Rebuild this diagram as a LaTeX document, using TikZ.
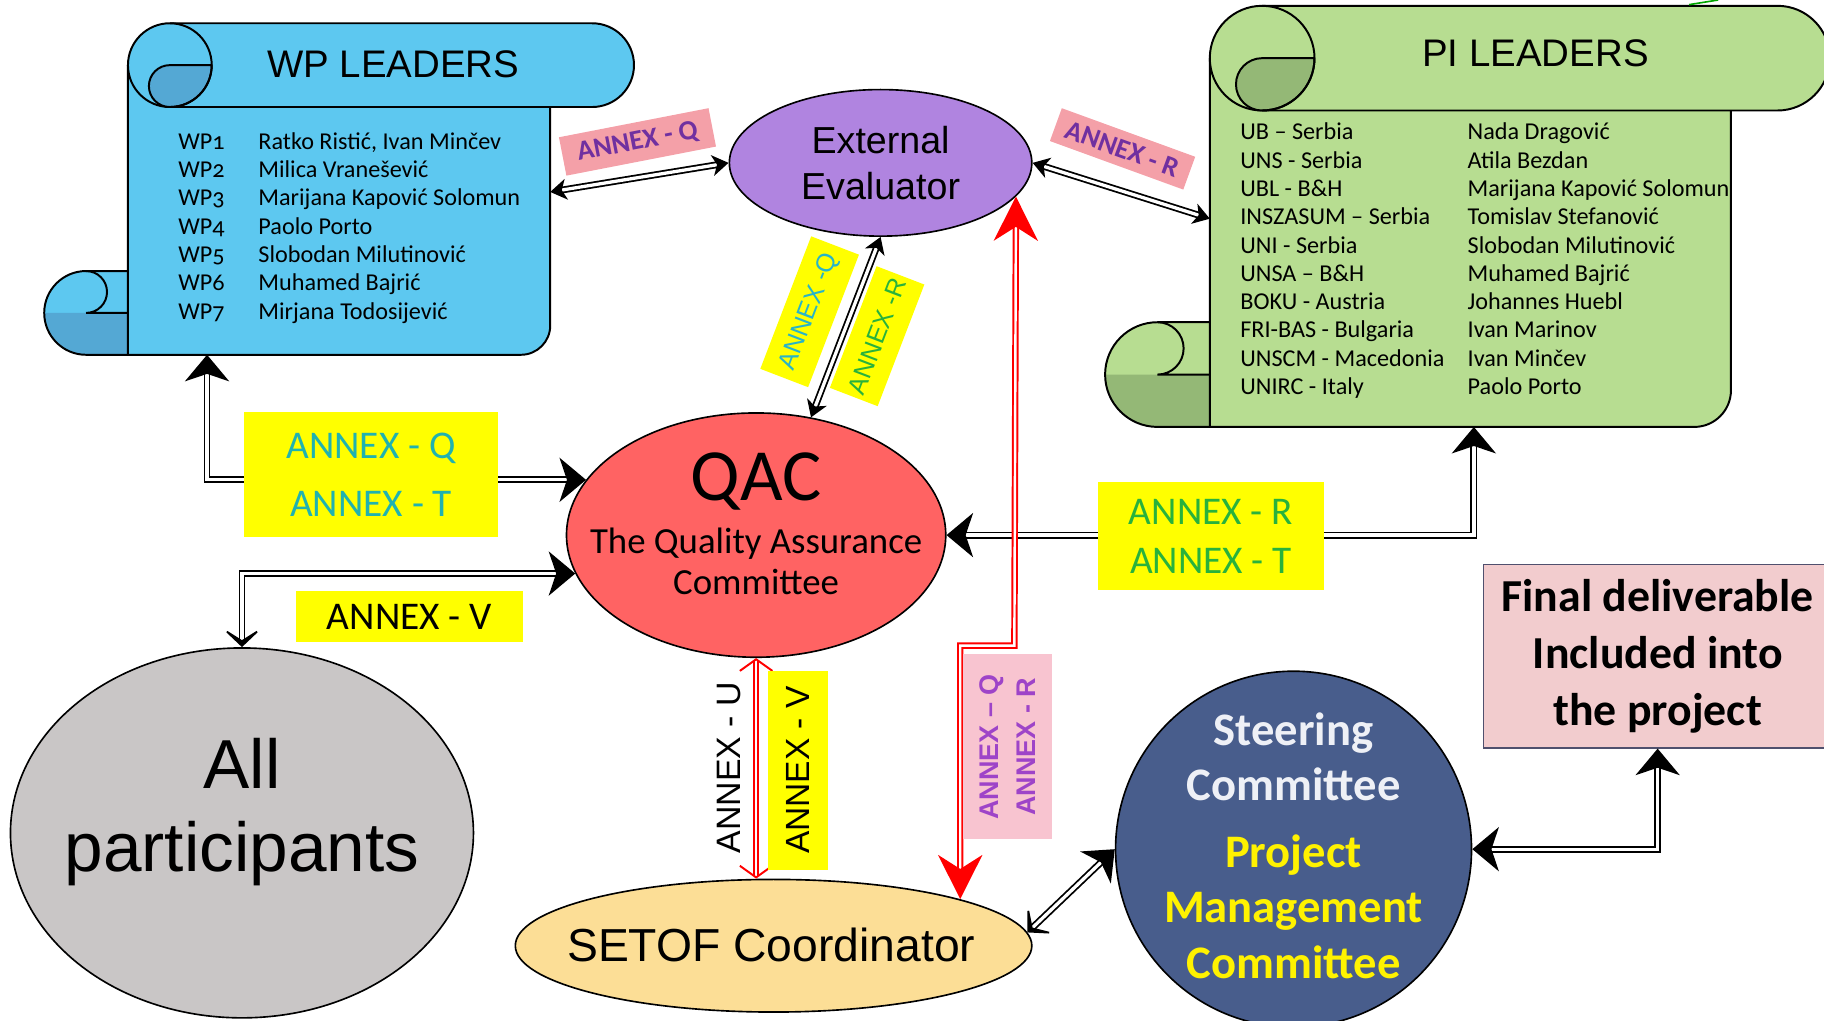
\documentclass[tikz,border=0pt]{standalone}
\usepackage{fontspec}
\setmainfont{Liberation Sans}
\newfontfamily\carlito{Carlito}
\newfontfamily\carlitoos{Carlito}[Numbers=OldStyle]
\usetikzlibrary{shapes.geometric,arrows.meta}

\definecolor{wpblue}{RGB}{93,200,240}
\definecolor{wpdark}{RGB}{84,168,212}
\definecolor{pigreen}{RGB}{183,221,145}
\definecolor{pidark}{RGB}{148,184,118}
\definecolor{eeviolet}{RGB}{176,132,224}
\definecolor{qacred}{RGB}{255,99,99}
\definecolor{allgray}{RGB}{201,198,198}
\definecolor{setofsand}{RGB}{252,222,150}
\definecolor{steerblue}{RGB}{72,93,140}
\definecolor{steerwhite}{RGB}{238,240,246}
\definecolor{finalpink}{RGB}{242,204,206}
\definecolor{finalline}{RGB}{80,80,110}
\definecolor{annexyellow}{RGB}{255,255,0}
\definecolor{annexpink}{RGB}{244,160,168}
\definecolor{annexrose}{RGB}{248,196,208}
\definecolor{annexpurple}{RGB}{112,48,160}
\definecolor{annexviolet}{RGB}{158,68,200}
\definecolor{annexteal}{RGB}{32,178,176}
\definecolor{annexcyan}{RGB}{40,180,200}
\definecolor{annexgreen}{RGB}{40,178,60}

% scroll: left, top, band right, body right, bottom, roll radius, light, dark
\newcommand{\scrollshape}[8]{%
  \fill[#7] ({#1-#6},{#5-2*#6}) -- (#1,{#5-2*#6}) -- (#1,#5) -- ({#1-#6},#5) arc(90:270:#6);
  \fill[#8] (#1,{#5-#6}) -- ({#1-2*#6},{#5-#6}) arc(180:90:#6) -- (#1,#5) -- cycle;
  \draw[line width=1.2pt, line join=round] (#1,{#5-2*#6}) -- ({#1-#6},{#5-2*#6}) arc(270:90:#6) -- (#1,#5);
  \draw[line width=1.2pt] ({#1-#6},{#5-2*#6}) arc(-90:90:{#6/2}) -- (#1,{#5-#6});
  \filldraw[fill=#7, line width=1.2pt, line join=round] (#1,{#2+#6}) -- (#1,#5) -- ({#4-0.7*#6},#5)
    arc(90:0:{0.7*#6}) -- (#4,{#2+#6});
  \filldraw[fill=#7, line width=1.2pt, line join=round] ({#1+#6},#2) -- ({#3-#6},#2) arc(-90:90:#6)
    -- ({#1+#6},{#2+2*#6}) arc(90:270:#6) -- cycle;
  \filldraw[fill=#8, line width=1.2pt, line join=round] ({#1+#6},{#2+#6}) -- ({#1+2*#6},{#2+#6})
    arc(0:90:#6) arc(90:270:{#6/2}) -- cycle;
  \draw[line width=1.2pt] ({#1+#6},#2) arc(-90:90:#6);
}

\begin{document}
\begin{tikzpicture}
  [x=0.25mm, y=-0.25mm,
   bighead/.tip={Stealth[length=5.7mm, width=9.5mm, inset=1.6mm]},
   widehead/.tip={Stealth[length=4.5mm, width=9.5mm, inset=3mm]},
   smallhead/.tip={Stealth[length=3.5mm, width=4.5mm, inset=1mm]},
   redhead/.tip={Stealth[length=9.5mm, width=9.5mm, inset=3mm]},
   barbhead/.tip={Straight Barb[length=2.5mm, width=7mm]},
   link/.style={draw=black, line width=1.1pt, double=white, double distance=2pt},
   redlink/.style={draw=red, line width=1.2pt, double=white, double distance=1.5pt},
   bubble/.style={ellipse, draw, line width=1pt, inner sep=0, align=center},
   yellowbox/.style={fill=annexyellow, inner sep=0, align=center},
   pinkbox/.style={fill=annexpink, inner sep=0, text=annexpurple,
                   font=\carlito\bfseries\fontsize{17}{20}\selectfont},
   listtext/.style={anchor=north west, inner sep=0, font=\carlito\fontsize{14.8}{17.3}\selectfont},
   titletext/.style={font=\fontsize{23.5}{28}\selectfont}]
  \useasboundingbox (0,0) rectangle (1568,877);

  \scrollshape{110}{20}{545}{473}{305}{36}{wpblue}{wpdark}
  \scrollshape{1040}{5}{1573}{1488}{367}{45}{pigreen}{pidark}
  \draw[green!65!black, line width=1pt] (1452,4) -- (1477,0);

  \node[titletext] (wptitle) at (338,55) {WP LEADERS};
  \node[listtext] (wplist) at (153,111) {\begin{tabular}{@{}p{49pt}@{}l@{}}
    {\carlitoos WP1} & Ratko Ristić, Ivan Minčev\\
    {\carlitoos WP2} & Milica Vranešević\\
    {\carlitoos WP3} & Marijana Kapović Solomun\\
    {\carlitoos WP4} & Paolo Porto\\
    {\carlitoos WP5} & Slobodan Milutinović\\
    {\carlitoos WP6} & Muhamed Bajrić\\
    {\carlitoos WP7} & Mirjana Todosijević
  \end{tabular}};
  \node[titletext] (pititle) at (1320,46) {PI LEADERS};
  \node[listtext] (pilist) at (1066,103) {\begin{tabular}{@{}p{139pt}@{}l@{}}
    UB – Serbia & Nada Dragović\\
    UNS - Serbia & Atila Bezdan\\
    UBL - B\&H & Marijana Kapović Solomun\\
    INSZASUM – Serbia & Tomislav Stefanović\\
    UNI - Serbia & Slobodan Milutinović\\
    UNSA – B\&H & Muhamed Bajrić\\
    BOKU - Austria & Johannes Huebl\\
    FRI-BAS - Bulgaria & Ivan Marinov\\
    UNSCM - Macedonia & Ivan Minčev\\
    UNIRC - Italy & Paolo Porto
  \end{tabular}};
  \coordinate (wpR) at (473,165);
  \coordinate (wpB) at (178,305);
  \coordinate (piL) at (1040,188);
  \coordinate (piB) at (1267,367);

  \node[bubble, fill=eeviolet, minimum width=65mm, minimum height=31.5mm,
        font=\fontsize{23}{28.4}\selectfont] (ee) at (757,140) {External\\Evaluator};
  \node[bubble, fill=qacred, minimum width=81.5mm, minimum height=52.5mm] (qac) at (650,460) {};
  \node[align=center, font=\carlito\fontsize{22.5}{25}\selectfont] (qactext) at (650,450)
        {{\fontsize{45}{45}\selectfont QAC}\\[7.7pt]The Quality Assurance\\Committee};
  \node[bubble, fill=allgray, minimum width=99.5mm, minimum height=79.5mm] (allp) at (208,716) {};
  \node[align=center, font=\fontsize{42.4}{51}\selectfont] (allptext) at (208,698) {All\\participants};
  \node[bubble, fill=setofsand, minimum width=111mm, minimum height=28.5mm] (setof) at (665,813) {};
  \node[font=\fontsize{28.3}{32}\selectfont] (setoftext) at (663,812) {SETOF Coordinator};
  \node[circle, draw, line width=1pt, fill=steerblue, minimum size=76.5mm, inner sep=0] (steer)
        at (1112,730) {};
  \node[align=center, font=\carlito\bfseries\fontsize{28.5}{34}\selectfont] (steertext) at (1112,727)
        {\textcolor{steerwhite}{Steering}\\\textcolor{steerwhite}{Committee}\\[6.5pt]
         \textcolor{yellow}{Project}\\\textcolor{yellow}{Management}\\\textcolor{yellow}{Committee}};
  \node[draw=finalline, line width=0.8pt, fill=finalpink, minimum width=75mm, minimum height=39.5mm,
        inner sep=0, align=center, font=\carlito\bfseries\fontsize{28}{35}\selectfont] (final)
        at (1425,564) {Final deliverable\\Included into\\the project};

  \draw[link, smallhead-smallhead] (wpR) -- (ee.west);
  \draw[link, smallhead-smallhead] (ee.east) -- (piL);
  \draw[link, smallhead-smallhead] (ee.south) -- (qac.65);
  \draw[link, bighead-bighead] (wpB) |- (qac.162);
  \draw[link, bighead-bighead] (piB) |- (qac.east);
  \draw[link, bighead-widehead] (qac.192) -| (allp.north);
  \draw[link, widehead-bighead] (setof.3) -- (steer.west);
  \draw[link, bighead-bighead] (steer.east) -| (final.south);
  \draw[redlink, barbhead-barbhead] (qac.south) -- (qac.south |- setof.north);
  \coordinate (redknee) at (872,555);
  \draw[redlink, redhead-redhead] (setof.14) |- (redknee) -- (ee.-14);

  \node[pinkbox, rotate=11, minimum width=32.75mm, minimum height=8.4mm] (lbleeq) at (548,122) {ANNEX - Q};
  \node[pinkbox, rotate=-20, minimum width=30.5mm, minimum height=7.5mm] (lbleer) at (965,128) {ANNEX - R};
  \node[yellowbox, rotate=69, minimum width=30.5mm, minimum height=11mm, text=annexcyan,
        font=\fontsize{15.6}{18}\selectfont] (lblq) at (696,268) {ANNEX -Q};
  \node[yellowbox, rotate=69, minimum width=28mm, minimum height=11mm, text=annexgreen,
        font=\fontsize{15.6}{18}\selectfont] (lblr) at (754,289) {ANNEX -R};
  \node[yellowbox, minimum width=54.5mm, minimum height=26.75mm, text=annexteal,
        font=\carlito\fontsize{24}{35.5}\selectfont] (lblqt) at (319,408) {ANNEX - Q\\ANNEX - T};
  \node[yellowbox, minimum width=48.5mm, minimum height=23.25mm, text=annexgreen,
        font=\carlito\fontsize{24}{30}\selectfont] (lblrt) at (1041,461) {ANNEX - R\\ANNEX - T};
  \node[yellowbox, minimum width=48.75mm, minimum height=11mm,
        font=\carlito\fontsize{24}{28}\selectfont] (lblv) at (352,530) {ANNEX - V};
  \node[rotate=90, inner sep=0, font=\fontsize{20.7}{24}\selectfont] (lblu) at (627,660) {ANNEX - U};
  \node[yellowbox, rotate=90, minimum width=42.75mm, minimum height=13mm,
        font=\fontsize{20.5}{24}\selectfont] (lblsv) at (686,662) {ANNEX - V};
  \node[fill=annexrose, rotate=90, inner sep=0, minimum width=39.75mm, minimum height=19.25mm,
        align=center, text=annexviolet, font=\bfseries\fontsize{16.5}{22.8}\selectfont] (lblqr)
        at (866,642) {ANNEX – Q\\ANNEX - R};
\end{tikzpicture}
\end{document}
